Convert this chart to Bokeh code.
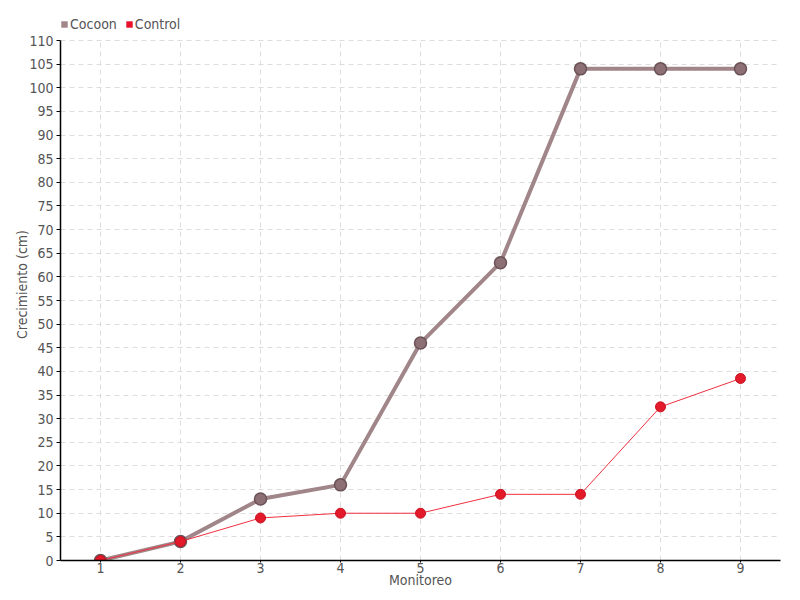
from bokeh.plotting import figure
from bokeh.models import Range1d, FixedTicker, Legend, LegendItem
from bokeh.embed import file_html
from bokeh.resources import INLINE

monitoreo = [1, 2, 3, 4, 5, 6, 7, 8, 9]
cocoon = [0, 4, 13, 16, 46, 63, 104, 104, 104]
control = [0, 4, 9, 10, 10, 14, 14, 32.5, 38.5]
y_ticks = list(range(0, 111, 5))

FONT = "DejaVu Sans Condensed"
TXT = "#555555"

PLOT_H = 520      # height of the 0..110 area
EXTRA_TOP = 32    # room above 110 for the legend
y_top = y_ticks[-1] * (PLOT_H + EXTRA_TOP) / PLOT_H

p = figure(frame_width=720, frame_height=PLOT_H + EXTRA_TOP, output_backend="svg",
           toolbar_location=None,
           x_range=Range1d(0.5, 9.5), y_range=Range1d(0, y_top),
           min_border_left=60, min_border_right=20, min_border_top=8, min_border_bottom=40)
p.outline_line_color = None
p.background_fill_color = "white"

p.xaxis.ticker = FixedTicker(ticks=monitoreo)
p.yaxis.ticker = FixedTicker(ticks=y_ticks)
p.yaxis.bounds = (y_ticks[0], y_ticks[-1])
for ax in (p.xaxis[0], p.yaxis[0]):
    ax.axis_line_color = "black"
    ax.axis_line_width = 1.5
    ax.major_tick_line_color = "black"
    ax.major_tick_out = 4
    ax.major_tick_in = 0
    ax.minor_tick_line_color = None
    ax.major_label_text_font = FONT
    ax.major_label_text_font_size = "14px"
    ax.major_label_text_color = TXT
    ax.axis_label_text_font = FONT
    ax.axis_label_text_font_size = "14px"
    ax.axis_label_text_color = TXT
    ax.axis_label_text_font_style = "normal"
p.xaxis.axis_label = "Monitoreo"
p.yaxis.axis_label = "Crecimiento (cm)"
p.xaxis.major_tick_out = 2
p.xaxis.axis_label_standoff = -4
p.xaxis.major_label_standoff = 0
p.yaxis.axis_label_standoff = -4
p.yaxis.major_label_standoff = 3

p.xgrid.grid_line_color = None
p.ygrid.ticker = FixedTicker(ticks=y_ticks)
p.ygrid.grid_line_color = "#dddddd"
p.ygrid.grid_line_dash = "5 4"
p.ygrid.grid_line_width = 1
# vertical grid lines limited to the 0..110 span
p.segment(x0=monitoreo, y0=[y_ticks[0]] * len(monitoreo),
          x1=monitoreo, y1=[y_ticks[-1]] * len(monitoreo),
          line_color="#dddddd", line_dash="5 4", line_width=1)

l1 = p.line(monitoreo, cocoon, line_color="#a08589", line_width=4)
m1 = p.scatter(monitoreo, cocoon, size=12, fill_color="#8c7075", line_color="#6a5256", line_width=1.5)
l2 = p.line(monitoreo, control, line_color="#f0303f", line_width=1)
m2 = p.scatter(monitoreo, control, size=10, fill_color="#e31a2a", line_color="#c81020", line_width=1)

s1 = p.rect([1], [0], width=0.1, height=1, fill_color="#a08589", line_color=None, visible=False)
s2 = p.rect([1], [0], width=0.1, height=1, fill_color="#e8102a", line_color=None, visible=False)

legend = Legend(items=[LegendItem(label="Cocoon", renderers=[s1]),
                       LegendItem(label="Control", renderers=[s2])],
                orientation="horizontal", location=(0, 528),
                label_text_font=FONT, label_text_font_size="14px", label_text_color=TXT,
                glyph_width=8, glyph_height=8, label_standoff=2, spacing=8,
                padding=0, margin=0, border_line_color=None, background_fill_alpha=0)
p.add_layout(legend)

open("out.html", "w").write(file_html(p, INLINE))
